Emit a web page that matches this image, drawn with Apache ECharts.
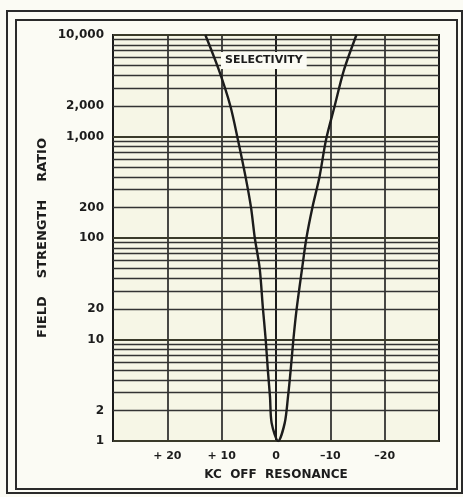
<!DOCTYPE html>
<html>
<head>
<meta charset="utf-8">
<script src="https://cdn.jsdelivr.net/npm/echarts@6/dist/echarts.min.js"></script>
<style>
  html, body { margin: 0; padding: 0; background: #fbfbf4; }
  #chart { width: 463px; height: 497px; }
</style>
</head>
<body>
<div id="chart"></div>
<script>
// selectivity curve: [kc off resonance, field strength ratio]
const curveKc = [13, 10.5, 8.4, 7, 5.6, 4.6, 3.9, 3.0, 2.4, 1.9, 1.5, 1.1, 0.8, -0.4, -1.6, -2.2, -2.7, -3.2, -3.8, -4.8, -5.6, -6.7, -8, -9.2, -10.8, -12.5, -14.8];
const curveRatio = [10000, 4500, 2000, 925, 400, 200, 100, 50, 20, 10, 5, 2.7, 1.5, 1, 1.5, 2.7, 5, 10, 20, 50, 100, 200, 400, 925, 2000, 4500, 10000];

// horizontal rulings (1..9 per decade) and the ones carrying a label
const rulings = [1, 2, 3, 4, 5, 6, 7, 8, 9,
  10, 20, 30, 40, 50, 60, 70, 80, 90,
  100, 200, 300, 400, 500, 600, 700, 800, 900,
  1000, 2000, 3000, 4000, 5000, 6000, 7000, 8000, 9000, 10000];
const yLabels = [1, 2, 10, 20, 100, 200, 1000, 2000, 10000];
const xLabels = [20, 10, 0, -10, -20];

const ink = '#1c1c1c';
const font = 'DejaVu Sans';

function fmtRatio(v) {
  return v >= 1000 ? String(v).replace(/\B(?=(\d{3})+(?!\d))/g, ',') : String(v);
}

const chart = echarts.init(document.getElementById('chart'));

// x axis is inverted, so the line "end" sits at the left edge
const gridLines = rulings.map(v => {
  const decade = Math.abs(Math.log10(v) - Math.round(Math.log10(v))) < 1e-9;
  return {
    yAxis: v,
    lineStyle: { color: decade ? '#3a3a2a' : '#333', width: decade ? 2 : 1.3, type: 'solid' },
    label: {
      show: yLabels.includes(v),
      position: 'end',
      distance: 9,
      formatter: fmtRatio(v),
      color: ink,
      fontFamily: font,
      fontWeight: 'bold',
      fontSize: 12
    }
  };
});

chart.setOption({
  backgroundColor: '#fbfbf4',
  animation: false,
  grid: { left: 113, right: 24, top: 35, bottom: 56, show: true, backgroundColor: '#f6f6e6', borderColor: ink, borderWidth: 2 },
  title: {
    text: 'SELECTIVITY',
    left: 221,
    top: 52,
    padding: [3, 4],
    backgroundColor: '#fbfbf4',
    textStyle: { color: ink, fontFamily: font, fontWeight: 'bold', fontSize: 11 }
  },
  xAxis: {
    type: 'value',
    inverse: true,
    min: -30,
    max: 30,
    interval: 10,
    name: 'KC  OFF  RESONANCE',
    nameLocation: 'middle',
    nameGap: 28,
    nameTextStyle: { color: ink, fontFamily: font, fontWeight: 'bold', fontSize: 12 },
    axisLine: { show: true, lineStyle: { color: ink, width: 2 } },
    axisTick: { show: false },
    splitLine: { show: true, lineStyle: { color: ink, width: 1.6 } },
    axisLabel: {
      margin: 10,
      color: ink,
      fontFamily: font,
      fontWeight: 'bold',
      fontSize: 11,
      formatter: v => xLabels.includes(v) ? (v > 0 ? '+ ' + v : v < 0 ? '\u2013' + Math.abs(v) : '0') : ''
    }
  },
  yAxis: {
    type: 'log',
    logBase: 10,
    min: 1,
    max: 10000,
    name: 'FIELD    STRENGTH    RATIO',
    nameLocation: 'middle',
    nameRotate: 90,
    nameGap: 64,
    nameTextStyle: { color: ink, fontFamily: font, fontWeight: 'bold', fontSize: 13 },
    axisLine: { show: true, lineStyle: { color: ink, width: 2 } },
    axisTick: { show: false },
    axisLabel: { show: false },
    splitLine: { show: false }
  },
  series: [
    {
      type: 'line',
      data: curveKc.map((k, i) => [k, curveRatio[i]]),
      smooth: 0.3,
      showSymbol: false,
      lineStyle: { color: ink, width: 2.4 },
      z: 5,
      markLine: {
        silent: true,
        symbol: ['none', 'none'],
        animation: false,
        data: gridLines
      }
    }
  ],
  graphic: [
    { type: 'rect', shape: { x: 7, y: 11, width: 455, height: 482 }, style: { fill: null, stroke: '#2a2a2a', lineWidth: 2 }, silent: true },
    { type: 'rect', shape: { x: 16, y: 20, width: 441, height: 469 }, style: { fill: null, stroke: '#2a2a2a', lineWidth: 2 }, silent: true }
  ]
});
</script>
</body>
</html>
